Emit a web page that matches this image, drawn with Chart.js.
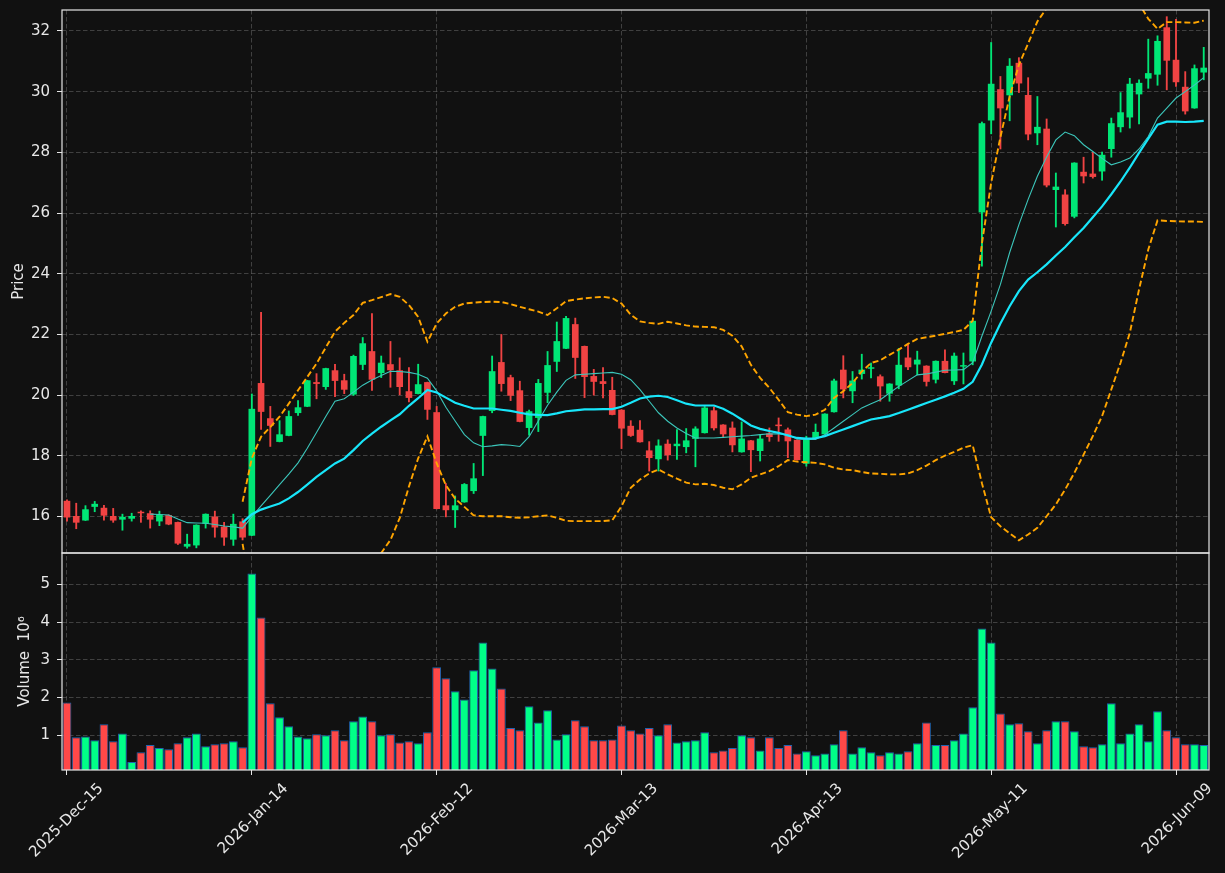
<!DOCTYPE html>
<html>
<head>
<meta charset="utf-8">
<script src="https://cdn.jsdelivr.net/npm/chart.js@4.4.1/dist/chart.umd.min.js"></script>
<style>
  html, body { margin: 0; padding: 0; background: #111111; }
  #wrap { width: 1225px; height: 873px; position: relative; background: #111111; }
</style>
</head>
<body>
<div id="wrap"><canvas id="chart"></canvas></div>
<script>
// --- data (one entry per trading day) ---
const tickIdx = [0, 20, 40, 60, 80, 100, 120];
const tickLabels = ['2025-Dec-15', '2026-Jan-14', '2026-Feb-12', '2026-Mar-13', '2026-Apr-13', '2026-May-11', '2026-Jun-09'];
const priceTicks = [16, 18, 20, 22, 24, 26, 28, 30, 32];
const volumeTicks = [1, 2, 3, 4, 5];

const opens = [16.52,16.02,15.87,16.32,16.29,16.02,15.90,15.93,16.13,16.11,
  15.84,16.05,15.82,15.01,15.05,15.76,16.00,15.67,15.24,15.84,
  15.37,20.40,19.24,18.46,18.66,19.41,19.62,20.43,20.27,20.82,
  20.49,20.02,21.00,21.45,20.73,21.02,20.82,20.13,20.04,20.43,
  19.44,16.37,16.21,16.47,16.84,18.66,19.48,21.09,20.59,20.16,
  18.92,19.25,20.08,21.10,21.53,22.34,21.62,20.63,20.46,20.17,
  19.52,18.99,18.86,18.18,17.89,18.40,18.32,18.29,18.56,18.75,
  19.50,19.03,18.93,18.12,18.51,18.16,18.74,19.03,18.87,18.53,
  17.74,18.59,18.71,19.44,20.84,20.13,20.70,20.87,20.62,20.05,
  20.32,21.24,21.01,20.97,20.51,21.13,20.46,20.94,21.11,26.02,
  29.05,30.08,29.88,30.95,29.89,28.63,28.78,26.76,26.61,25.88,
  27.36,27.30,27.37,28.11,28.83,29.15,29.91,30.43,30.56,32.12,
  31.05,30.16,29.45,30.63];
const highs = [16.55,16.44,16.36,16.50,16.37,16.27,16.08,16.11,16.19,16.19,
  16.18,16.06,15.82,15.42,15.73,16.09,16.18,15.81,16.08,15.93,
  20.04,22.73,19.63,19.16,19.48,19.82,20.49,20.71,20.89,21.02,
  20.69,21.32,21.90,22.69,21.29,21.77,21.23,20.91,21.02,20.43,
  19.63,17.09,16.68,17.09,17.75,19.31,21.29,22.00,20.66,20.46,
  19.51,20.52,21.44,22.41,22.60,22.54,21.62,20.85,20.91,20.59,
  19.52,19.16,19.16,18.47,18.53,18.53,18.87,18.90,18.96,19.63,
  19.61,19.03,19.12,19.12,18.51,18.69,18.92,19.25,18.92,18.53,
  18.65,19.05,19.39,20.53,21.30,20.78,21.35,21.06,20.67,20.38,
  21.54,21.67,21.45,20.97,21.13,21.49,21.39,21.39,22.45,29.00,
  31.62,30.50,31.09,31.12,30.46,29.84,29.10,27.32,26.77,27.66,
  27.84,28.01,28.01,29.13,29.97,30.44,30.39,31.73,31.84,32.47,
  32.38,30.66,30.88,31.46];
const lows = [15.85,15.60,15.87,16.16,15.88,15.81,15.55,15.85,15.81,15.62,
  15.70,15.73,15.08,14.96,14.97,15.62,15.32,15.05,15.05,15.23,
  15.37,18.87,18.31,18.46,18.66,19.33,19.62,19.88,20.19,19.95,
  20.05,19.99,20.84,20.16,20.58,20.26,20.01,19.78,20.04,19.20,
  16.25,15.99,15.64,16.47,16.76,17.35,19.42,20.13,19.82,19.12,
  18.68,18.80,19.75,20.78,21.53,20.55,19.92,20.00,19.91,19.35,
  18.24,18.64,18.45,17.50,17.50,17.86,17.88,18.10,17.64,18.75,
  18.85,18.62,18.13,18.12,17.48,17.83,18.48,18.48,17.94,17.86,
  17.66,18.59,18.71,19.44,19.91,19.75,20.53,20.57,19.80,19.80,
  20.21,20.84,20.67,20.30,20.40,20.73,20.35,20.37,21.00,24.25,
  28.61,28.11,29.04,29.97,28.41,28.25,26.86,25.54,25.60,25.84,
  26.99,27.15,27.08,27.84,28.67,28.80,28.94,30.11,30.21,30.06,
  30.17,29.26,29.45,30.39];
const closes = [15.97,15.80,16.24,16.42,16.03,15.87,15.99,16.02,16.11,15.90,
  16.07,15.74,15.11,15.10,15.73,16.09,15.64,15.31,15.76,15.31,
  19.55,19.45,18.99,18.71,19.31,19.60,20.49,20.37,20.89,20.47,
  20.18,21.29,21.71,20.51,21.07,20.82,20.27,19.91,20.36,19.52,
  16.25,16.21,16.37,17.07,17.26,19.31,20.79,20.37,19.98,19.12,
  19.47,20.40,20.99,21.78,22.54,21.23,20.60,20.44,20.37,19.35,
  18.90,18.66,18.45,17.93,18.34,18.02,18.40,18.51,18.90,19.59,
  18.91,18.71,18.35,18.57,18.19,18.57,18.62,18.98,18.48,17.86,
  18.57,18.79,19.39,20.48,20.19,20.48,20.84,20.89,20.29,20.38,
  21.00,20.92,21.17,20.44,21.13,20.73,21.30,20.97,22.45,28.96,
  30.26,29.45,30.85,30.27,28.59,28.84,26.91,26.87,25.64,27.66,
  27.21,27.19,27.92,28.96,29.32,30.26,30.29,30.61,31.67,31.02,
  30.31,29.35,30.77,30.79];
// volume in millions
const volumes = [1.87,0.95,0.97,0.87,1.29,0.84,1.05,0.29,0.55,0.74,
  0.66,0.63,0.79,0.95,1.05,0.71,0.76,0.79,0.84,0.68,
  5.29,4.12,1.85,1.48,1.24,0.97,0.92,1.03,1.00,1.13,
  0.87,1.37,1.50,1.37,1.00,1.03,0.81,0.84,0.79,1.08,
  2.80,2.51,2.17,1.95,2.72,3.46,2.77,2.24,1.19,1.13,
  1.77,1.34,1.66,0.89,1.03,1.40,1.24,0.87,0.87,0.89,
  1.26,1.13,1.05,1.19,1.00,1.29,0.81,0.84,0.87,1.08,
  0.55,0.60,0.66,1.00,0.95,0.60,0.95,0.66,0.74,0.52,
  0.58,0.47,0.52,0.76,1.13,0.52,0.68,0.55,0.47,0.55,
  0.52,0.58,0.79,1.34,0.74,0.74,0.87,1.05,1.74,3.83,
  3.46,1.58,1.29,1.32,1.11,0.79,1.13,1.37,1.37,1.11,
  0.71,0.68,0.76,1.85,0.79,1.05,1.29,0.84,1.64,1.13,
  0.95,0.76,0.76,0.74];
// short moving average (thin line)
const maShort = [null,null,null,null,null,null,null,null,null,16.08,
  16.07,16.05,15.92,15.80,15.79,15.78,15.74,15.69,15.66,15.62,
  15.99,16.35,16.70,17.05,17.40,17.77,18.25,18.77,19.30,19.80,
  19.88,20.10,20.33,20.50,20.65,20.79,20.78,20.75,20.69,20.56,
  20.14,19.60,19.15,18.70,18.43,18.30,18.33,18.37,18.35,18.31,
  18.63,19.15,19.67,20.10,20.49,20.67,20.69,20.71,20.73,20.75,
  20.69,20.51,20.18,19.80,19.42,19.14,18.92,18.74,18.59,18.59,
  18.59,18.61,18.63,18.65,18.67,18.70,18.73,18.72,18.70,18.56,
  18.54,18.54,18.70,18.92,19.14,19.36,19.58,19.72,19.85,20.07,
  20.29,20.48,20.67,20.70,20.76,20.82,20.83,20.84,21.07,21.95,
  22.77,23.65,24.70,25.62,26.45,27.21,27.85,28.41,28.67,28.55,
  28.25,28.03,27.80,27.59,27.68,27.81,28.11,28.52,29.13,29.46,
  29.79,30.00,30.22,30.46];
// long moving average (thick line)
const maLong = [null,null,null,null,null,null,null,null,null,null,
  null,null,null,null,null,null,null,null,null,15.80,
  16.08,16.23,16.33,16.43,16.60,16.81,17.05,17.31,17.53,17.75,
  17.91,18.19,18.49,18.73,18.96,19.17,19.37,19.65,19.90,20.17,
  20.09,19.92,19.75,19.65,19.56,19.56,19.56,19.52,19.48,19.42,
  19.37,19.35,19.34,19.40,19.47,19.50,19.53,19.53,19.54,19.54,
  19.62,19.75,19.89,19.95,19.98,19.94,19.83,19.72,19.66,19.66,
  19.66,19.55,19.39,19.20,19.00,18.89,18.82,18.76,18.67,18.59,
  18.57,18.58,18.65,18.76,18.87,18.98,19.09,19.20,19.25,19.31,
  19.41,19.52,19.63,19.74,19.85,19.96,20.08,20.21,20.44,21.01,
  21.73,22.36,22.93,23.43,23.81,24.05,24.31,24.60,24.88,25.20,
  25.51,25.86,26.22,26.62,27.04,27.50,27.98,28.45,28.91,29.01,
  29.01,29.00,29.01,29.04];
const bandUpper = [null,null,null,null,null,null,null,null,null,null,
  null,null,null,null,null,null,null,null,null,16.49,
  17.92,18.63,18.95,19.29,19.72,20.16,20.60,21.04,21.57,22.09,
  22.38,22.64,23.04,23.13,23.23,23.33,23.24,22.97,22.58,21.76,
  22.36,22.69,22.91,23.02,23.05,23.07,23.08,23.07,23.00,22.91,
  22.83,22.75,22.64,22.86,23.10,23.15,23.19,23.22,23.24,23.20,
  23.02,22.65,22.43,22.38,22.35,22.42,22.36,22.30,22.26,22.25,
  22.24,22.15,21.96,21.61,21.00,20.57,20.24,19.85,19.44,19.36,
  19.31,19.36,19.52,19.91,20.13,20.40,20.78,21.06,21.15,21.33,
  21.50,21.69,21.85,21.91,21.96,22.02,22.08,22.15,22.45,25.00,
  27.00,28.50,29.84,30.88,31.59,32.31,32.75,33.10,33.35,33.50,
  33.60,33.65,33.60,33.50,33.35,33.20,32.90,32.40,32.07,32.29,
  32.29,32.28,32.27,32.34];
const bandLower = [null,null,null,null,null,null,null,null,null,null,
  null,null,null,null,null,null,null,null,null,15.10,
  13.40,12.80,12.40,12.10,11.90,11.80,11.80,11.90,12.00,12.30,
  12.70,13.20,13.70,14.25,14.80,15.23,15.95,16.99,17.92,18.64,
  17.76,17.03,16.59,16.32,16.04,16.01,16.01,16.01,15.98,15.96,
  15.98,16.01,16.04,15.96,15.86,15.85,15.85,15.85,15.85,15.88,
  16.34,16.95,17.22,17.42,17.55,17.39,17.25,17.12,17.06,17.08,
  17.04,16.95,16.90,17.06,17.28,17.39,17.50,17.66,17.86,17.81,
  17.79,17.77,17.72,17.61,17.55,17.53,17.47,17.42,17.41,17.39,
  17.39,17.42,17.53,17.68,17.86,18.01,18.13,18.27,18.35,17.10,
  15.98,15.68,15.45,15.22,15.41,15.63,16.01,16.40,16.89,17.44,
  18.04,18.65,19.31,20.19,21.07,22.05,23.48,24.80,25.76,25.74,
  25.73,25.72,25.72,25.71];

// --- styling ---
const upCandle = '#00e676';
const downCandle = '#f04343';
const upVol = '#00ff88';
const downVol = '#ff4848';
const textColor = '#e8e8e8';
const gridColor = 'rgba(255,255,255,0.2)';
const font = { family: 'DejaVu Sans', size: 15 };

const isUp = opens.map((o, i) => closes[i] >= o);
const pts = arr => arr.map((v, i) => ({ x: i, y: v }));

// keep each dataset inside its own panel
const panelClip = {
    id: 'panelClip',
    beforeDatasetDraw(chart, args) {
        const xs = chart.scales.x;
        const ys = chart.scales[args.meta.yAxisID];
        const ctx = chart.ctx;
        ctx.save();
        ctx.beginPath();
        ctx.rect(xs.left, ys.top, xs.right - xs.left, ys.bottom - ys.top);
        ctx.clip();
    },
    afterDatasetDraw(chart) {
        chart.ctx.restore();
    }
};

// white frame around both panels
const panelFrame = {
    id: 'panelFrame',
    afterDraw(chart) {
        const ctx = chart.ctx;
        const xs = chart.scales.x;
        ctx.save();
        ctx.strokeStyle = '#e6e6e6';
        ctx.lineWidth = 1.2;
        ['y', 'yv'].forEach(id => {
            const ys = chart.scales[id];
            ctx.strokeRect(xs.left, ys.top, xs.right - xs.left, ys.bottom - ys.top);
        });
        ctx.restore();
    }
};

const yTickOpts = {
    color: textColor,
    font: font,
    padding: 7
};

function fixWidth(axis) {
    axis.width = 62;
    axis.paddingTop = 0;
    axis.paddingBottom = 0;
}

new Chart(document.getElementById('chart'), {
    type: 'bar',
    data: {
        datasets: [
            {
                type: 'line', label: 'MA long', data: pts(maLong), yAxisID: 'y', order: 0,
                borderColor: '#18e6fa', borderWidth: 2.2, pointRadius: 0, tension: 0
            },
            {
                type: 'line', label: 'MA short', data: pts(maShort), yAxisID: 'y', order: 0,
                borderColor: '#3cc6bb', borderWidth: 1.1, pointRadius: 0, tension: 0
            },
            {
                type: 'line', label: 'Upper band', data: pts(bandUpper), yAxisID: 'y', order: 0,
                borderColor: '#ffa500', borderWidth: 1.9, borderDash: [6, 3], pointRadius: 0, tension: 0
            },
            {
                type: 'line', label: 'Lower band', data: pts(bandLower), yAxisID: 'y', order: 0,
                borderColor: '#ffa500', borderWidth: 1.9, borderDash: [6, 3], pointRadius: 0, tension: 0
            },
            {
                label: 'Body', yAxisID: 'y', order: 1, grouped: false,
                data: opens.map((o, i) => ({ x: i, y: [o, closes[i]] })),
                backgroundColor: isUp.map(u => u ? upCandle : downCandle),
                borderWidth: 0, minBarLength: 1.5,
                categoryPercentage: 1, barPercentage: 0.72
            },
            {
                label: 'Wick', yAxisID: 'y', order: 2, grouped: false,
                data: lows.map((l, i) => ({ x: i, y: [l, highs[i]] })),
                backgroundColor: isUp.map(u => u ? upCandle : downCandle),
                borderWidth: 0, maxBarThickness: 1.2,
                categoryPercentage: 1, barPercentage: 1
            },
            {
                label: 'Volume', yAxisID: 'yv', order: 3, grouped: false,
                data: volumes.map((v, i) => ({ x: i, y: v })),
                backgroundColor: isUp.map(u => u ? upVol : downVol),
                borderColor: '#1f64b0', borderWidth: 1,
                categoryPercentage: 1, barPercentage: 0.95
            }
        ]
    },
    options: {
        responsive: true,
        maintainAspectRatio: false,
        devicePixelRatio: 1,
        animation: false,
        events: [],
        layout: { padding: { top: 10, right: 16, left: 0, bottom: 0 } },
        plugins: {
            legend: { display: false },
            tooltip: { enabled: false }
        },
        scales: {
            x: {
                type: 'linear', axis: 'x', position: 'bottom',
                min: -0.54, max: 123.57, offset: false,
                grid: { color: gridColor, offset: false, tickColor: '#e6e6e6', tickLength: 5, tickBorderDash: [] },
                border: { display: false, dash: [4.5, 2.5] },
                afterBuildTicks: axis => { axis.ticks = tickIdx.map(v => ({ value: v })); },
                afterFit: axis => { axis.height = 103; axis.paddingLeft = 0; axis.paddingRight = 0; },
                ticks: {
                    color: textColor, font: font,
                    autoSkip: false, minRotation: 45, maxRotation: 45,
                    labelOffset: 34, padding: 5,
                    callback: v => {
                        const k = tickIdx.indexOf(v);
                        return k < 0 ? '' : tickLabels[k];
                    }
                }
            },
            y: {
                type: 'linear', axis: 'y', position: 'left',
                stack: 'panels', stackWeight: 543, weight: 2,
                min: 14.80, max: 32.69,
                grid: { color: gridColor, tickColor: '#e6e6e6', tickLength: 5, tickBorderDash: [] },
                border: { display: false, dash: [4.5, 2.5] },
                afterBuildTicks: axis => { axis.ticks = priceTicks.map(v => ({ value: v })); },
                afterFit: fixWidth,
                ticks: yTickOpts,
                title: { display: true, text: 'Price', color: textColor, font: font, padding: { top: 10, bottom: 0 } }
            },
            yv: {
                type: 'linear', axis: 'y', position: 'left',
                stack: 'panels', stackWeight: 217, weight: 1,
                min: 0.08, max: 5.83,
                grid: { color: gridColor, tickColor: '#e6e6e6', tickLength: 5, tickBorderDash: [] },
                border: { display: false, dash: [4.5, 2.5] },
                afterBuildTicks: axis => { axis.ticks = volumeTicks.map(v => ({ value: v })); },
                afterFit: fixWidth,
                ticks: yTickOpts,
                title: { display: true, text: 'Volume  10⁶', color: textColor, font: font, padding: { top: 16, bottom: 0 } }
            }
        }
    },
    plugins: [panelClip, panelFrame]
});
</script>
</body>
</html>
